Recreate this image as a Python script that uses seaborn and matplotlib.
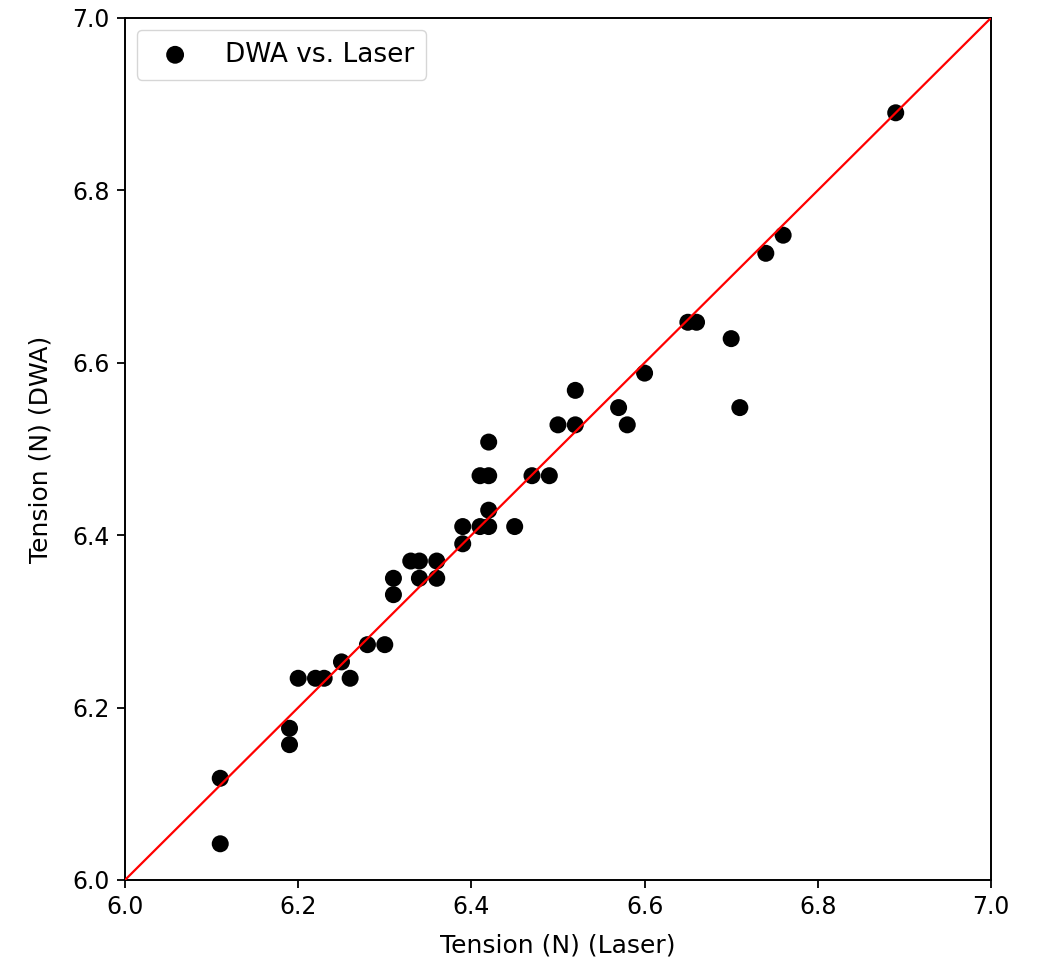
import matplotlib
matplotlib.use("Agg")
import matplotlib.pyplot as plt
import seaborn as sns
import pandas as pd

laser = [6.89, 6.74, 6.76, 6.65, 6.66, 6.70, 6.71, 6.60, 6.52, 6.57, 6.58, 6.50,
         6.52, 6.42, 6.47, 6.49, 6.41, 6.42, 6.42, 6.41, 6.42, 6.45, 6.39, 6.39,
         6.33, 6.34, 6.36, 6.34, 6.36, 6.31, 6.31, 6.28, 6.30, 6.25, 6.20, 6.22,
         6.23, 6.26, 6.19, 6.19, 6.11, 6.11]
dwa = [6.890, 6.727, 6.748, 6.647, 6.647, 6.628, 6.548, 6.588, 6.568, 6.548, 6.528, 6.528,
       6.528, 6.508, 6.469, 6.469, 6.469, 6.469, 6.429, 6.410, 6.410, 6.410, 6.410, 6.390,
       6.370, 6.370, 6.370, 6.350, 6.350, 6.350, 6.331, 6.273, 6.273, 6.253, 6.234, 6.234,
       6.234, 6.234, 6.176, 6.157, 6.118, 6.042]
diag = [6.0, 7.0]

df = pd.DataFrame({"laser": laser, "dwa": dwa})

fig = plt.figure(figsize=(10.38, 9.61), dpi=100)
ax = fig.add_axes([0.1204, 0.0843, 0.8343, 0.897])
sns.scatterplot(data=df, x="laser", y="dwa", ax=ax, color="black", s=150,
                edgecolor="none", label="DWA vs. Laser", zorder=2)
sns.lineplot(x=diag, y=diag, ax=ax, color="red", linewidth=1.6, zorder=3)
ax.set_xlim(6.0, 7.0)
ax.set_ylim(6.0, 7.0)
ax.set_xticks([6.0, 6.2, 6.4, 6.6, 6.8, 7.0])
ax.set_yticks([6.0, 6.2, 6.4, 6.6, 6.8, 7.0])
ax.tick_params(labelsize=17, length=6, width=1.3, pad=5)
for sp in ax.spines.values():
    sp.set_linewidth(1.4)
ax.set_xlabel("Tension (N) (Laser)", fontsize=18, labelpad=10)
ax.set_ylabel("Tension (N) (DWA)", fontsize=18, labelpad=14)
ax.legend(loc="upper left", fontsize=19, markerscale=1.05, borderpad=0.45,
          handletextpad=0.9, borderaxespad=0.45, handlelength=2.0)
fig.savefig("out.png", dpi=100)
